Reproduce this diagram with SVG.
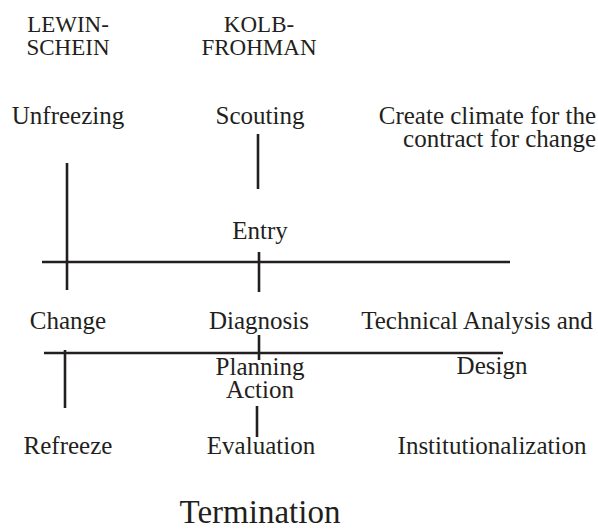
<svg xmlns="http://www.w3.org/2000/svg" width="598" height="529" viewBox="0 0 598 529">
<style>
text{font-family:"Liberation Serif","Times New Roman",serif;fill:#231f20;font-size:25px;text-anchor:middle}
.hd{font-size:23px}
.big{font-size:33px}
.r{text-anchor:end}
.ln line{stroke:#231f20;stroke-width:2.6;fill:none}
</style>
<rect width="598" height="529" fill="#fff"/>
<g id="col-lewin"><text class="hd" x="68" y="32">LEWIN-</text><text class="hd" x="68" y="55">SCHEIN</text></g>
<g id="col-kolb"><text class="hd" x="259" y="32">KOLB-</text><text class="hd" x="259" y="55">FROHMAN</text></g>
<g id="unfreezing"><text x="68" y="124">Unfreezing</text></g>
<g id="scouting"><text x="260" y="124">Scouting</text></g>
<g id="climate"><text class="r" x="596" y="124">Create climate for the</text><text class="r" x="596" y="147">contract for change</text></g>
<g id="entry"><text x="260" y="239">Entry</text></g>
<g id="change"><text x="68" y="329">Change</text></g>
<g id="diagnosis"><text x="259" y="329">Diagnosis</text></g>
<g id="technical"><text x="477" y="329">Technical Analysis and</text><text x="492" y="374">Design</text></g>
<g id="planning"><text x="260" y="375">Planning</text><text x="260" y="398">Action</text></g>
<g id="refreeze"><text x="68" y="454">Refreeze</text></g>
<g id="evaluation"><text x="261" y="454">Evaluation</text></g>
<g id="institutionalization"><text x="492" y="454">Institutionalization</text></g>
<g id="termination"><text class="big" x="260" y="523">Termination</text></g>
<g id="connectors" class="ln">
<line x1="258" y1="134" x2="258" y2="189"/>
<line x1="67" y1="163" x2="67" y2="290"/>
<line x1="42" y1="262" x2="510" y2="262"/>
<line x1="259" y1="252" x2="259" y2="292"/>
<line x1="259" y1="335" x2="259" y2="360"/>
<line x1="44" y1="353" x2="503" y2="353"/>
<line x1="65" y1="350" x2="65" y2="408"/>
<line x1="257" y1="406" x2="257" y2="437"/>
</g>
</svg>
